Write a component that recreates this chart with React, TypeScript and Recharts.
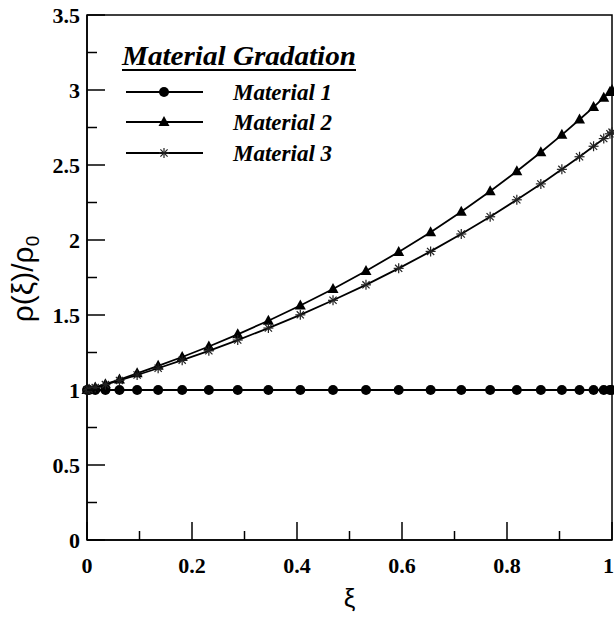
import { LineChart, Line, XAxis, YAxis, ReferenceArea, Legend } from "recharts";

// Collocation points along xi (dense near both ends)
const XI = [
  0, 0.00394, 0.01571, 0.03511, 0.06185, 0.09549, 0.13552, 0.18129, 0.23209,
  0.28711, 0.34549, 0.40631, 0.4686, 0.5314, 0.59369, 0.65451, 0.71289,
  0.76791, 0.81871, 0.86448, 0.90451, 0.93815, 0.96489, 0.98429, 0.99606, 1,
];

const MATERIAL_1 = [
  1, 1, 1, 1, 1, 1, 1, 1, 1, 1, 1, 1, 1, 1, 1, 1, 1, 1, 1, 1, 1, 1, 1, 1, 1, 1,
];

const MATERIAL_2 = [
  1, 1.004, 1.017, 1.039, 1.07, 1.111, 1.161, 1.22, 1.29, 1.371, 1.462, 1.563,
  1.673, 1.793, 1.92, 2.052, 2.188, 2.325, 2.458, 2.585, 2.701, 2.803, 2.886,
  2.949, 2.987, 3,
];

const MATERIAL_3 = [
  1, 1.004, 1.016, 1.036, 1.064, 1.1, 1.145, 1.199, 1.261, 1.333, 1.413, 1.501,
  1.598, 1.701, 1.811, 1.924, 2.04, 2.155, 2.268, 2.374, 2.471, 2.555, 2.625,
  2.676, 2.708, 2.718,
];

const SERIES_NAMES = ["Material 1", "Material 2", "Material 3"];
const LEGEND_TITLE = "Material Gradation";

const X_TICKS = [0, 0.1, 0.2, 0.3, 0.4, 0.5, 0.6, 0.7, 0.8, 0.9, 1];
const X_LABELS = ["0", "0.2", "0.4", "0.6", "0.8", "1"];
const Y_TICKS = [0, 0.25, 0.5, 0.75, 1, 1.25, 1.5, 1.75, 2, 2.25, 2.5, 2.75, 3, 3.25, 3.5];
const Y_LABELS = ["0", "0.5", "1", "1.5", "2", "2.5", "3", "3.5"];

const data = XI.map((xi, i) => ({
  xi,
  m1: MATERIAL_1[i],
  m2: MATERIAL_2[i],
  m3: MATERIAL_3[i],
}));

const SERIF = "'Liberation Serif', 'Times New Roman', serif";
const SANS = "'Liberation Sans', Arial, sans-serif";

/* markers */

function CircleMark({ cx, cy }: { cx: number; cy: number }) {
  return <circle cx={cx} cy={cy} r={5} fill="#000" />;
}

function TriangleMark({ cx, cy }: { cx: number; cy: number }) {
  return (
    <polygon
      points={`${cx},${cy - 6} ${cx + 5.5},${cy + 4} ${cx - 5.5},${cy + 4}`}
      fill="#000"
    />
  );
}

function StarMark({ cx, cy }: { cx: number; cy: number }) {
  const r = 5;
  const d = r * 0.72;
  return (
    <g stroke="#222" strokeWidth={1.2}>
      <line x1={cx - r} y1={cy} x2={cx + r} y2={cy} />
      <line x1={cx} y1={cy - r} x2={cx} y2={cy + r} />
      <line x1={cx - d} y1={cy - d} x2={cx + d} y2={cy + d} />
      <line x1={cx - d} y1={cy + d} x2={cx + d} y2={cy - d} />
    </g>
  );
}

const MARKS = [CircleMark, TriangleMark, StarMark];

function dotRenderer(Mark: typeof CircleMark) {
  return (props: any) => {
    const { cx, cy, index } = props;
    if (cx == null || cy == null) return <g key={`d-${index}`} />;
    return (
      <g key={`d-${index}`}>
        <Mark cx={cx} cy={cy} />
      </g>
    );
  };
}

/* ticks drawn inward, labels only on the major ones */

function isLabelled(v: number, labels: string[]) {
  return labels.includes(String(v));
}

function XTick(props: any) {
  const { x, y, payload } = props;
  const v = payload.value as number;
  const major = isLabelled(v, X_LABELS);
  // the last label sits on the chart's right edge, keep it inside
  const last = v === X_TICKS[X_TICKS.length - 1];
  return (
    <g>
      <line x1={x} x2={x} y1={y} y2={y - (major ? 18 : 9)} stroke="#000" strokeWidth={1.5} />
      {major && (
        <text
          x={last ? x + 2 : x}
          y={y + 33}
          textAnchor={last ? "end" : "middle"}
          fontFamily={SERIF}
          fontWeight="bold"
          fontSize={22}
          fill="#000"
        >
          {String(v)}
        </text>
      )}
    </g>
  );
}

function YTick(props: any) {
  const { x, y, payload } = props;
  const v = payload.value as number;
  const major = isLabelled(v, Y_LABELS);
  return (
    <g>
      <line x1={x} x2={x + (major ? 18 : 10)} y1={y} y2={y} stroke="#000" strokeWidth={1.5} />
      {major && (
        <text
          x={x - 7}
          y={y + 8}
          textAnchor="end"
          fontFamily={SERIF}
          fontWeight="bold"
          fontSize={22}
          fill="#000"
        >
          {String(v)}
        </text>
      )}
    </g>
  );
}

/* legend box in the upper left of the plot */

const LEGEND_ROWS = [92, 122, 153];

function GradationLegend() {
  return (
    <svg width={614} height={200} style={{ display: "block" }}>
      <text
        x={122}
        y={65}
        fontFamily={SERIF}
        fontWeight="bold"
        fontStyle="italic"
        fontSize={28}
        textLength={234}
        lengthAdjust="spacingAndGlyphs"
        fill="#000"
      >
        {LEGEND_TITLE}
      </text>
      <line x1={122} x2={356} y1={70} y2={70} stroke="#000" strokeWidth={2} />
      {SERIES_NAMES.map((name, i) => {
        const y = LEGEND_ROWS[i];
        const Mark = MARKS[i];
        return (
          <g key={name}>
            <line x1={126} x2={203} y1={y} y2={y} stroke="#000" strokeWidth={2} />
            <Mark cx={164} cy={y} />
            <text
              x={233}
              y={y + 8}
              fontFamily={SERIF}
              fontWeight="bold"
              fontStyle="italic"
              fontSize={23}
              fill="#000"
            >
              {name}
            </text>
          </g>
        );
      })}
    </svg>
  );
}

export default function App() {
  return (
    <div style={{ position: "absolute", left: 0, top: 0, background: "#fff" }}>
      <LineChart
        width={614}
        height={619}
        data={data}
        margin={{ top: 15, right: 2, bottom: 0, left: 0 }}
      >
        <XAxis
          dataKey="xi"
          type="number"
          domain={[0, 1]}
          ticks={X_TICKS}
          interval={0}
          height={79}
          tickSize={0}
          tickMargin={0}
          tickLine={false}
          axisLine={{ stroke: "#000", strokeWidth: 1.5 }}
          tick={XTick}
          label={{
            content: ({ viewBox }: any) => (
              <text
                x={viewBox.x + viewBox.width / 2}
                y={viewBox.y + 67}
                textAnchor="middle"
                fontFamily={SANS}
                fontSize={26}
                fill="#000"
              >
                ξ
              </text>
            ),
          }}
        />
        <YAxis
          type="number"
          domain={[0, 3.5]}
          ticks={Y_TICKS}
          interval={0}
          width={87}
          tickSize={0}
          tickMargin={0}
          tickLine={false}
          axisLine={{ stroke: "#000", strokeWidth: 1.5 }}
          tick={YTick}
          label={{
            content: ({ viewBox }: any) => {
              const cx = 33;
              const cy = viewBox.y + 264;
              return (
                <text
                  x={cx}
                  y={cy}
                  transform={`rotate(-90 ${cx} ${cy})`}
                  textAnchor="middle"
                  fontFamily={SANS}
                  fontSize={30}
                  fill="#000"
                >
                  ρ(ξ)/ρ
                  <tspan fontSize={19} dy={6}>
                    0
                  </tspan>
                </text>
              );
            },
          }}
        />
        <ReferenceArea
          x1={0}
          x2={1}
          y1={0}
          y2={3.5}
          fill="none"
          stroke="#000"
          strokeWidth={1.5}
          ifOverflow="visible"
        />
        <Legend
          layout="horizontal"
          align="center"
          verticalAlign="middle"
          wrapperStyle={{ left: 0, top: 0, width: 614, height: 200, pointerEvents: "none" }}
          content={() => <GradationLegend />}
        />
        <Line
          dataKey="m1"
          name={SERIES_NAMES[0]}
          stroke="#000"
          strokeWidth={2}
          dot={dotRenderer(CircleMark)}
          activeDot={false}
          isAnimationActive={false}
        />
        <Line
          dataKey="m2"
          name={SERIES_NAMES[1]}
          stroke="#000"
          strokeWidth={1.8}
          dot={dotRenderer(TriangleMark)}
          activeDot={false}
          isAnimationActive={false}
        />
        <Line
          dataKey="m3"
          name={SERIES_NAMES[2]}
          stroke="#000"
          strokeWidth={1.8}
          dot={dotRenderer(StarMark)}
          activeDot={false}
          isAnimationActive={false}
        />
      </LineChart>
    </div>
  );
}
